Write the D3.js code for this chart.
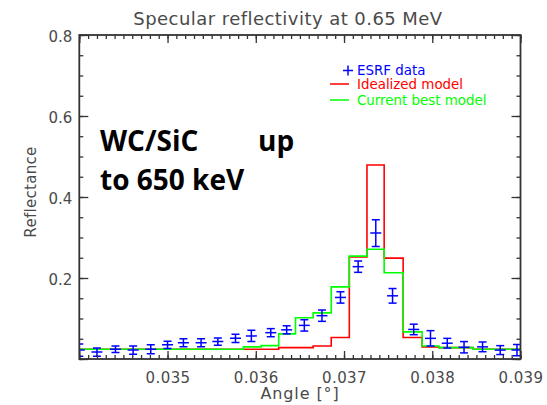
<!DOCTYPE html>
<html>
<head>
<meta charset="utf-8">
<script src="https://cdn.jsdelivr.net/npm/d3@7"></script>
<style>
  html, body { margin: 0; padding: 0; background: #fff; }
  svg { display: block; }
</style>
</head>
<body>
<svg id="chart" width="547" height="405"></svg>
<script>
// ---- data ----
const titleText = "Specular reflectivity at 0.65 MeV";
const xLabel = "Angle [\u00b0]";
const yLabel = "Reflectance";
const xTickValues = [0.035, 0.036, 0.037, 0.038, 0.039];
const xTickLabels = ["0.035", "0.036", "0.037", "0.038", "0.039"];
const yTickValues = [0.2, 0.4, 0.6, 0.8];
const yTickLabels = ["0.2", "0.4", "0.6", "0.8"];
const legendLabels = ["ESRF data", "Idealized model", "Current best model"];
const noteLines = [["WC/SiC", "up"], ["to 650 keV"]];

const angles = [0.03400, 0.03420, 0.03441, 0.03461, 0.03481, 0.03500, 0.03518, 0.03538,
                0.03557, 0.03577, 0.03595, 0.03617, 0.03635, 0.03655, 0.03675, 0.03696,
                0.03716, 0.03736, 0.03755, 0.03779, 0.03798, 0.03817, 0.03836, 0.03857,
                0.03877, 0.03896];
const esrfData = [0.022, 0.017, 0.024, 0.022, 0.024, 0.035, 0.040, 0.040,
                  0.043, 0.051, 0.057, 0.065, 0.072, 0.083, 0.107, 0.152,
                  0.228, 0.311, 0.156, 0.073, 0.051, 0.039, 0.029, 0.030,
                  0.022, 0.022];
const esrfErr  = [0.015, 0.010, 0.008, 0.010, 0.011, 0.009, 0.010, 0.010,
                  0.009, 0.010, 0.014, 0.010, 0.010, 0.014, 0.014, 0.014,
                  0.014, 0.033, 0.018, 0.013, 0.019, 0.012, 0.014, 0.012,
                  0.011, 0.014];
const idealModel = [0.024, 0.024, 0.024, 0.024, 0.024, 0.024, 0.024, 0.024,
                    0.024, 0.024, 0.024, 0.024, 0.028, 0.028, 0.032, 0.053,
                    0.252, 0.479, 0.249, 0.053, 0.030, 0.028, 0.028, 0.024,
                    0.024, 0.024];
const bestModel  = [0.024, 0.024, 0.024, 0.024, 0.024, 0.024, 0.024, 0.024,
                    0.024, 0.024, 0.030, 0.033, 0.062, 0.102, 0.114, 0.178,
                    0.254, 0.271, 0.213, 0.067, 0.032, 0.028, 0.028, 0.024,
                    0.024, 0.024];

// ---- layout ----
const svg = d3.select("#chart");
const L = 79.3, R = 520.5, T = 35, B = 359;
const x = d3.scaleLinear().domain([0.034, 0.039]).range([L, R]);
const y = d3.scaleLinear().domain([0, 0.8]).range([B, T]);

const textCol = "#4a4a4a";
const axisCol = "#333";
const font = "DejaVu Sans, sans-serif";
const BLUE = "#0000ff", RED = "#ff0000", GREEN = "#00ff00";

svg.append("defs").append("clipPath").attr("id", "plotclip")
  .append("rect").attr("x", L).attr("y", T).attr("width", R - L).attr("height", B - T);

// ---- model step lines ----
const plot = svg.append("g").attr("clip-path", "url(#plotclip)");
function stepData(vals) {
  const n = angles.length;
  const h0 = angles[1] - angles[0], h1 = angles[n - 1] - angles[n - 2];
  const pts = angles.map((a, i) => [a, vals[i]]);
  pts.unshift([angles[0] - h0, vals[0]]);
  pts.push([angles[n - 1] + h1, vals[n - 1]]);
  return pts;
}
const stepLine = d3.line().x(d => x(d[0])).y(d => y(d[1])).curve(d3.curveStep);
plot.append("path").attr("d", stepLine(stepData(idealModel)))
  .attr("fill", "none").attr("stroke", RED).attr("stroke-width", 1.6);
plot.append("path").attr("d", stepLine(stepData(bestModel)))
  .attr("fill", "none").attr("stroke", GREEN).attr("stroke-width", 1.6);

// ---- data crosses with error bars ----
const pts = plot.append("g").attr("stroke", BLUE).attr("stroke-width", 1.5).attr("fill", "none");
angles.forEach((a, i) => {
  const cx = x(a), cy = y(esrfData[i]);
  const yt = y(esrfData[i] + esrfErr[i]), yb = y(esrfData[i] - esrfErr[i]);
  const g = pts.append("g");
  g.append("line").attr("x1", cx).attr("x2", cx).attr("y1", yt).attr("y2", yb);
  g.append("line").attr("x1", cx - 4).attr("x2", cx + 4).attr("y1", yt).attr("y2", yt);
  g.append("line").attr("x1", cx - 4).attr("x2", cx + 4).attr("y1", yb).attr("y2", yb);
  g.append("line").attr("x1", cx - 5.5).attr("x2", cx + 5.5).attr("y1", cy).attr("y2", cy);
});

// ---- axes ----
const xMinor = d3.range(0, 51).map(i => 0.034 + i * 0.0001);
const xMajor = [0.034].concat(xTickValues);
const yMinor = d3.range(0, 17).map(i => i * 0.05);
const yMajor = [0].concat(yTickValues);

function styleAxis(g) {
  g.selectAll(".domain").remove();
  g.selectAll("line").attr("stroke", axisCol).attr("stroke-width", 1.3);
}
// bottom (ticks inward)
svg.append("g").attr("transform", `translate(0,${B})`)
  .call(d3.axisTop(x).tickValues(xMinor).tickSize(4).tickFormat("")).call(styleAxis);
svg.append("g").attr("transform", `translate(0,${B})`)
  .call(d3.axisTop(x).tickValues(xMajor).tickSize(8).tickFormat("")).call(styleAxis);
// top (ticks inward)
svg.append("g").attr("transform", `translate(0,${T})`)
  .call(d3.axisBottom(x).tickValues(xMinor).tickSize(4).tickFormat("")).call(styleAxis);
svg.append("g").attr("transform", `translate(0,${T})`)
  .call(d3.axisBottom(x).tickValues(xMajor).tickSize(8).tickFormat("")).call(styleAxis);
// left (ticks inward)
svg.append("g").attr("transform", `translate(${L},0)`)
  .call(d3.axisRight(y).tickValues(yMinor).tickSize(4).tickFormat("")).call(styleAxis);
svg.append("g").attr("transform", `translate(${L},0)`)
  .call(d3.axisRight(y).tickValues(yMajor).tickSize(9).tickFormat("")).call(styleAxis);
// right (ticks inward)
svg.append("g").attr("transform", `translate(${R},0)`)
  .call(d3.axisLeft(y).tickValues(yMinor).tickSize(4).tickFormat("")).call(styleAxis);
svg.append("g").attr("transform", `translate(${R},0)`)
  .call(d3.axisLeft(y).tickValues(yMajor).tickSize(9).tickFormat("")).call(styleAxis);

// tick labels
const xLab = svg.append("g").attr("transform", `translate(0,${B})`)
  .call(d3.axisBottom(x).tickValues(xTickValues).tickSize(0).tickPadding(0)
        .tickFormat((d, i) => xTickLabels[i]));
xLab.select(".domain").remove();
xLab.selectAll("text").attr("y", 24).attr("dy", 0)
  .attr("font-family", font).attr("font-size", 15).attr("letter-spacing", 0.4).attr("fill", textCol);

const yLab = svg.append("g").attr("transform", `translate(${L},0)`)
  .call(d3.axisLeft(y).tickValues(yTickValues).tickSize(0).tickPadding(7)
        .tickFormat((d, i) => yTickLabels[i]));
yLab.select(".domain").remove();
yLab.selectAll("text").attr("dy", "0.45em")
  .attr("font-family", font).attr("font-size", 15).attr("fill", textCol);

// frame
svg.append("rect").attr("x", L).attr("y", T).attr("width", R - L).attr("height", B - T)
  .attr("fill", "none").attr("stroke", axisCol).attr("stroke-width", 1.8);

// ---- titles ----
svg.append("text").attr("x", 288).attr("y", 25).attr("text-anchor", "middle")
  .attr("font-family", font).attr("font-size", 18).attr("letter-spacing", 0.45)
  .attr("fill", textCol).text(titleText);
svg.append("text").attr("x", 300).attr("y", 399).attr("text-anchor", "middle")
  .attr("font-family", font).attr("font-size", 16).attr("letter-spacing", 0.9)
  .attr("fill", textCol).text(xLabel);
svg.append("text").attr("transform", "translate(36,192) rotate(-90)").attr("text-anchor", "middle")
  .attr("font-family", font).attr("font-size", 15).attr("letter-spacing", 0.3)
  .attr("fill", textCol).text(yLabel);

// ---- legend ----
const lg = svg.append("g").attr("font-family", font).attr("font-size", 13.4);
lg.append("line").attr("x1", 343).attr("x2", 353).attr("y1", 70.5).attr("y2", 70.5)
  .attr("stroke", BLUE).attr("stroke-width", 1.5);
lg.append("line").attr("x1", 348).attr("x2", 348).attr("y1", 65.5).attr("y2", 75.5)
  .attr("stroke", BLUE).attr("stroke-width", 1.5);
lg.append("text").attr("x", 357).attr("y", 75).attr("fill", BLUE).text(legendLabels[0]);
lg.append("line").attr("x1", 330).attr("x2", 349).attr("y1", 84).attr("y2", 84)
  .attr("stroke", RED).attr("stroke-width", 1.5);
lg.append("text").attr("x", 357).attr("y", 89).attr("fill", RED).text(legendLabels[1]);
lg.append("line").attr("x1", 330).attr("x2", 349).attr("y1", 100).attr("y2", 100)
  .attr("stroke", GREEN).attr("stroke-width", 1.5);
lg.append("text").attr("x", 357).attr("y", 104.5).attr("fill", GREEN).text(legendLabels[2]);

// ---- annotation ----
const note = svg.append("g").attr("font-family", "Open Sans, sans-serif")
  .attr("font-weight", "bold").attr("font-size", 28).attr("fill", "#000");
const n1 = note.append("text").attr("y", 151);
n1.append("tspan").attr("x", 100).text(noteLines[0][0]);
n1.append("tspan").attr("x", 258).text(noteLines[0][1]);
note.append("text").attr("x", 100).attr("y", 190).text(noteLines[1][0]);
</script>
</body>
</html>
